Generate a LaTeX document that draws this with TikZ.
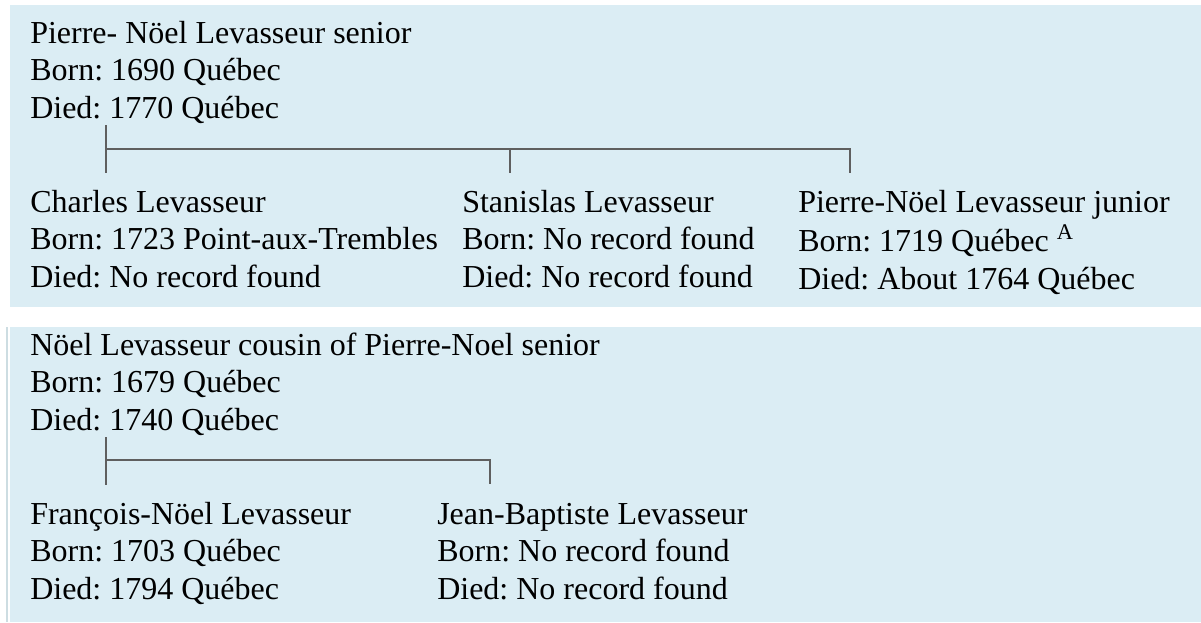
\documentclass[tikz,border=0pt]{standalone}
\usepackage{fontspec}
\setmainfont{Liberation Serif}
\usepackage{xcolor}
\usepackage{tikz}
\usetikzlibrary{positioning,calc}

\definecolor{panelblue}{RGB}{219,237,244}
\definecolor{tiegray}{RGB}{95,95,95}
\frenchspacing

\begin{document}
\begin{tikzpicture}[
  x=0.75pt, y=0.75pt,
  panel/.style={fill=panelblue, draw=none},
  person/.style={anchor=north west, inner sep=0pt, align=left, text=black,
    font=\fontsize{24}{28.1}\selectfont},
  tie/.style={draw=tiegray, line width=1.3pt}
]
\useasboundingbox (0,0) rectangle (1201,-622);

% ==================== Panels ====================
\fill[panel] (10,-5) rectangle (1201,-307);
\fill[panel] (10,-327) rectangle (1201,-622);
\draw[panelblue!85!gray, line width=0.8pt] (7,-327) -- (7,-622);

% ==================== Pierre-Noel senior ====================
\node[person] (senior) at (30,-17) {\strut Pierre- Nöel Levasseur senior\\\strut Born: 1690 Québec\\\strut Died: 1770 Québec};

\node[person] (charles) at (30,-186) {\strut Charles Levasseur\\\strut Born: 1723 Point-aux-Trembles\\\strut Died: No record found};
\node[person] (stanislas) at (462,-186) {\strut Stanislas Levasseur\\\strut Born: No record found\\\strut Died: No record found};
\node[person] (junior) at (798,-186) {\strut Pierre-Nöel Levasseur junior\\\strut Born: 1719 Québec \textsuperscript{A}\\\strut Died: About 1764 Québec};

% connectors
\coordinate (srA) at (106,-125);
\coordinate (srB) at (106,-173);
\coordinate (srbar) at (106,-149);
\coordinate (stanA) at (510,-173);
\coordinate (jrA) at (850,-173);
\draw[tie] (srA) -- (srB);
\draw[tie] (srbar) -| (jrA);
\draw[tie] (stanA |- srbar) -- (stanA);

% ==================== Noel, cousin ====================
\node[person] (noel) at (30,-329) {\strut Nöel Levasseur cousin of Pierre-Noel senior\\\strut Born: 1679 Québec\\\strut Died: 1740 Québec};

\node[person] (francois) at (30,-498) {\strut François-Nöel Levasseur\\\strut Born: 1703 Québec\\\strut Died: 1794 Québec};
\node[person] (jeanbaptiste) at (437,-498) {\strut Jean-Baptiste Levasseur\\\strut Born: No record found\\\strut Died: No record found};

% connectors
\coordinate (nlA) at (106,-437);
\coordinate (nlB) at (106,-485);
\coordinate (nlbar) at (106,-460);
\coordinate (jbA) at (490,-484);
\draw[tie] (nlA) -- (nlB);
\draw[tie] (nlbar) -| (jbA);

\end{tikzpicture}
\end{document}
